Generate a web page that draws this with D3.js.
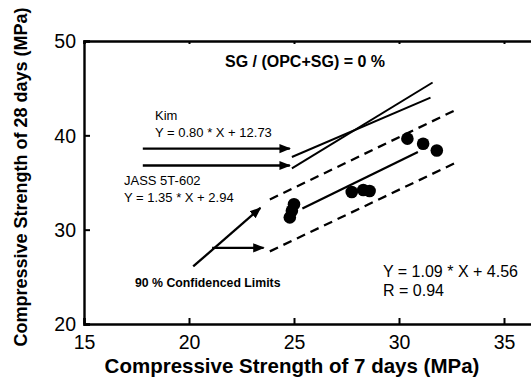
<!DOCTYPE html>
<html><head><meta charset="utf-8">
<script src="https://cdn.jsdelivr.net/npm/d3@7"></script>
<style>body{margin:0;background:#fff}svg{display:block;font-family:Arial,"Liberation Sans",sans-serif}</style>
</head><body><svg id="c" width="531" height="387"></svg>
<script>
const xTicks = [15, 20, 25, 30, 35];
const yTicks = [20, 30, 40, 50];
const pointsX = [24.8, 24.9, 25.0, 27.75, 28.3, 28.6, 30.4, 31.15, 31.8];
const pointsY = [31.3, 32.0, 32.7, 34.0, 34.2, 34.1, 39.65, 39.1, 38.4];
const fitLine = [[25.4, 32.25], [30.9, 38.24]];
const upperLimit = [[23.85, 33.2], [32.8, 42.8]];
const lowerLimit = [[23.85, 27.7], [32.8, 37.2]];
const kimLine = [[24.9, 37.7], [31.5, 44.0]];
const jassLine = [[24.9, 36.5], [31.6, 45.6]];
const kimArrow = [[17.8, 38.6], [24.8, 38.6]];
const jassArrow = [[17.8, 36.8], [24.8, 36.8]];
const confArrow1 = [[20.2, 26.1], [23.4, 32.3]];
const confArrow2 = [[21.1, 28.07], [23.55, 28.07]];

const svg = d3.select("#c");
const x = d3.scaleLinear().domain([15, 40]).range([84, 609]);
const y = d3.scaleLinear().domain([20, 50]).range([324, 41]);

svg.append("defs").append("marker").attr("id","ah").attr("viewBox","0 0 10 10")
  .attr("refX",9).attr("refY",5).attr("markerWidth",5).attr("markerHeight",5)
  .attr("markerUnits","strokeWidth").attr("orient","auto")
  .append("path").attr("d","M0,1 L10,5 L0,9 Z").attr("fill","#000");

// axes
const gx = svg.append("g").attr("transform",`translate(0,${y(20)})`)
  .call(d3.axisBottom(x).tickValues(xTicks).tickSize(-6).tickPadding(11).tickFormat(d3.format("d")));
const gxt = svg.append("g").attr("transform",`translate(0,${y(50)})`)
  .call(d3.axisTop(x).tickValues(xTicks).tickSize(-3).tickFormat(""));
const gy = svg.append("g").attr("transform",`translate(${x(15)},0)`)
  .call(d3.axisLeft(y).tickValues(yTicks).tickSize(-6).tickPadding(8).tickFormat(d3.format("d")));
[gx,gxt,gy].forEach(g=>{
  g.select(".domain").attr("stroke","#000").attr("stroke-width",2.4);
  g.selectAll(".tick line").attr("stroke","#000").attr("stroke-width",2);
  g.selectAll("text").attr("font-size",19.5).attr("fill","#000").attr("font-family","Arial, 'Liberation Sans', sans-serif");
});
gy.selectAll("text").attr("dy","0.35em");

const line = d3.line().x(d=>x(d[0])).y(d=>y(d[1]));
function seg(data, opts){
  const p = svg.append("path").attr("d", line(data)).attr("fill","none")
    .attr("stroke","#000").attr("stroke-width", opts.w||2);
  if(opts.dash) p.attr("stroke-dasharray", opts.dash);
  if(opts.arrow) p.attr("marker-end","url(#ah)");
  return p;
}
seg(kimLine,{w:2});
seg(jassLine,{w:2});
seg(upperLimit,{w:2.3,dash:"9,6"});
seg(lowerLimit,{w:2.3,dash:"9,6"});
seg(fitLine,{w:2.3});
seg(kimArrow,{w:2.3,arrow:true});
seg(jassArrow,{w:2.3,arrow:true});
seg(confArrow1,{w:2.3,arrow:true});
seg(confArrow2,{w:2.3,arrow:true});

svg.append("g").selectAll("circle").data(pointsX.map((v,i)=>[v,pointsY[i]])).join("circle")
  .attr("cx",d=>x(d[0])).attr("cy",d=>y(d[1])).attr("r",6.3).attr("fill","#000");

function txt(s, px, py, size, weight, anchor){
  svg.append("text").attr("x",px).attr("y",py).attr("font-size",size)
    .attr("font-weight",weight||"normal").attr("text-anchor",anchor||"start").attr("fill","#000").text(s);
}
txt("SG / (OPC+SG) = 0 %", 305, 67, 16, "bold", "middle");
txt("Kim", 155, 120, 13);
txt("Y = 0.80 * X + 12.73", 155, 137, 13);
txt("JASS 5T-602", 124, 185, 13);
txt("Y = 1.35 * X  + 2.94", 124, 202, 13);
txt("90 % Confidenced Limits", 135, 287, 12.3, "bold");
txt("Y = 1.09 * X + 4.56", 383, 277, 16);
txt("R = 0.94", 383, 296, 16);

txt("Compressive Strength of 7 days (MPa)", 292, 373, 20.5, "bold", "middle");
svg.append("text").attr("transform","translate(27,177) rotate(-90)").attr("text-anchor","middle")
  .attr("font-size",18).attr("font-weight","bold").attr("fill","#000").text("Compressive Strength of 28 days (MPa)");
</script></body></html>
